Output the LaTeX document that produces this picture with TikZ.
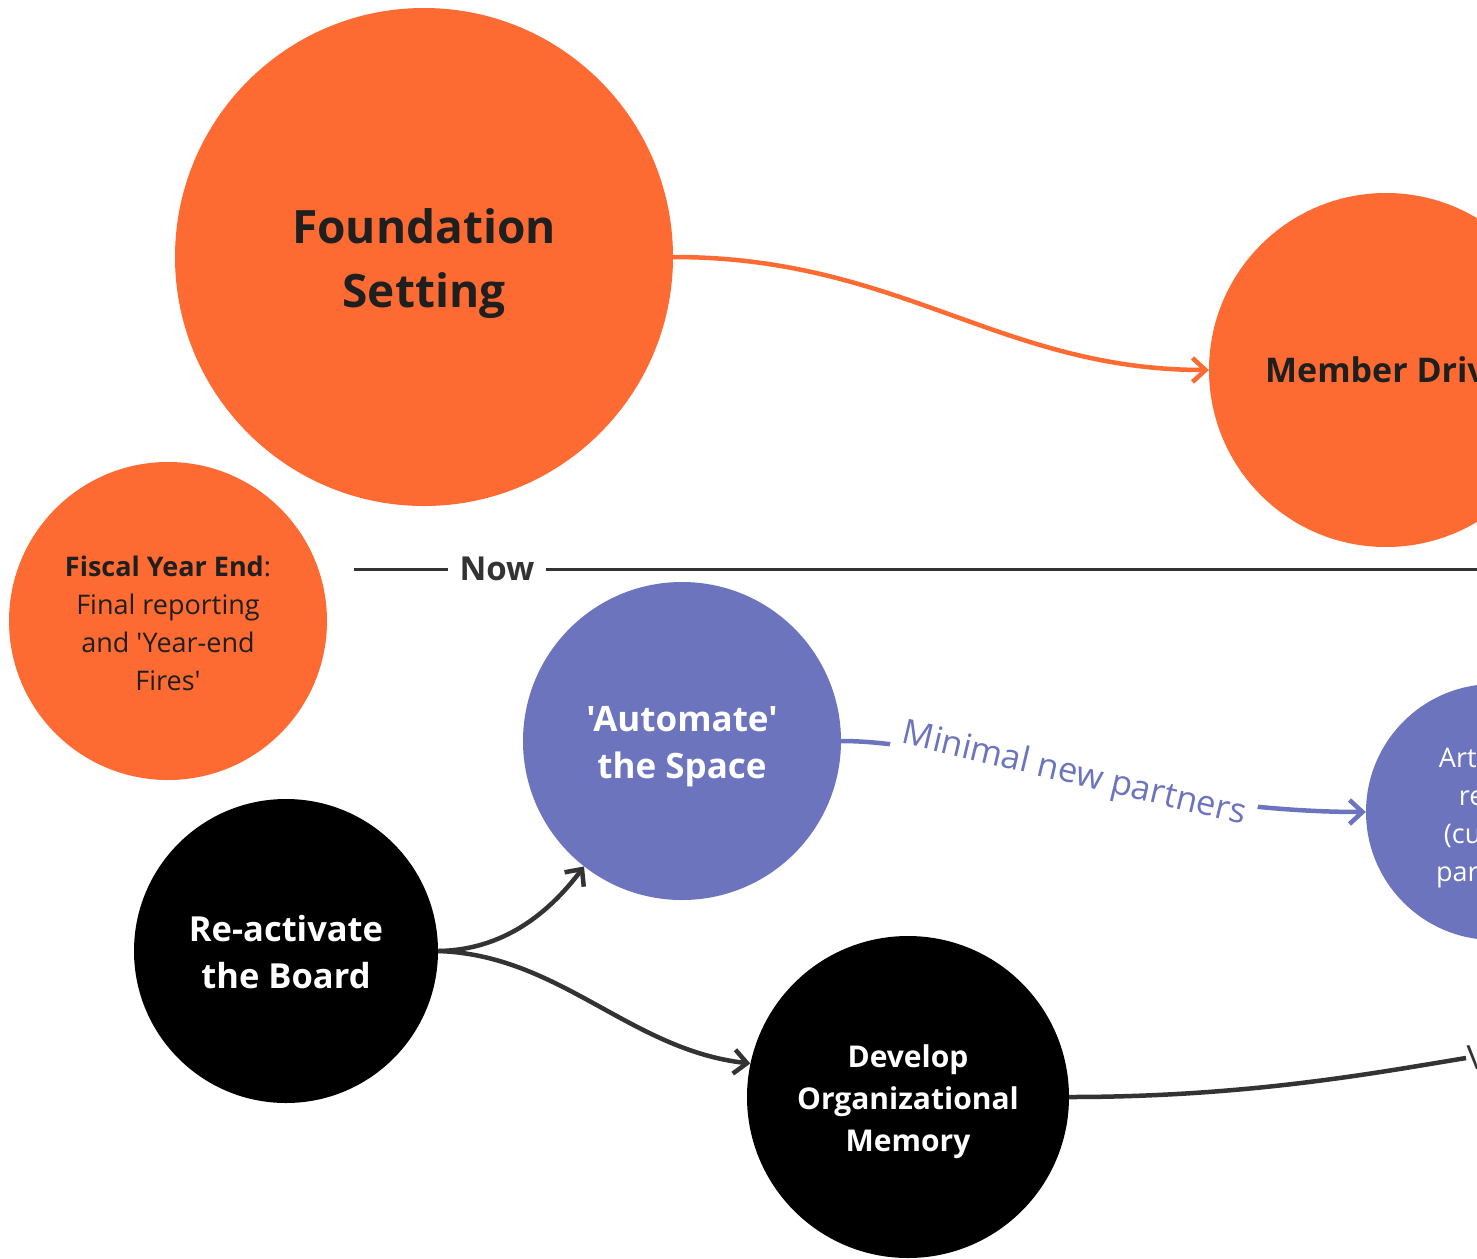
\documentclass[tikz,border=0pt]{standalone}
\usepackage{fontspec}
\setmainfont{Open Sans}[Ligatures=TeXOff]
\usetikzlibrary{arrows.meta}

\definecolor{brandorange}{HTML}{FE6B32}
\definecolor{brandpurple}{HTML}{6B74BD}
\definecolor{ink}{HTML}{1F1F1F}
\definecolor{wire}{HTML}{333333}

\begin{document}
\begin{tikzpicture}[x=1pt,y=-1pt,
  bubble/.style={circle, inner sep=0pt, minimum size=#1},
  orangebubble/.style={bubble=#1, fill=brandorange},
  purplebubble/.style={bubble=#1, fill=brandpurple},
  blackbubble/.style={bubble=#1, fill=black},
  caption/.style={align=center, inner sep=0pt},
  darkcaption/.style={caption, text=ink},
  lightcaption/.style={caption, text=white},
  tip/.style={-{Straight Barb[length=13pt,width=24pt]}},
  flow/.style={line width=4.5pt, tip},
  orangeflow/.style={flow, draw=brandorange},
  purpleflow/.style={flow, draw=brandpurple},
  greyflow/.style={flow, draw=wire},
  edgelabel/.style={fill=white, inner xsep=10pt, inner ysep=2pt,
    font=\fontsize{34.5}{40}\selectfont},
]
\clip (0,0) rectangle (1477,1258);
\fill[white] (0,0) rectangle (1477,1258);

% phases
\node[orangebubble=498pt] (found) at (424,257) {};
\node[darkcaption, font=\fontsize{46}{64}\selectfont\bfseries]
  (foundtext) at ([yshift=-7pt]found) {Foundation\\Setting};
\node[orangebubble=354pt] (member) at (1386,370) {};
\node[darkcaption, font=\fontsize{34}{40}\selectfont\bfseries]
  (membertext) at (member) {Member Drive};
\node[orangebubble=318pt] (fiscal) at (168,621) {};
\node[darkcaption, font=\fontsize{27}{38}\selectfont]
  (fiscaltext) at ([yshift=-2pt]fiscal) {\textbf{Fiscal Year End}:\\Final reporting\\and 'Year-end\\Fires'};

% timeline marker
\node[font=\fontsize{33}{40}\selectfont\bfseries, text=wire, inner xsep=11pt]
  (now) at (497,569) {Now};
\coordinate (nowL) at (354,569);
\coordinate (nowR) at (1490,569);
\draw[wire, line width=3pt] (nowL) -- (now.west);
\draw[wire, line width=3pt] (now.east) -- (nowR);

% tracks
\node[purplebubble=318pt] (auto) at (682,741) {};
\node[lightcaption, font=\fontsize{35}{47}\selectfont\bfseries]
  (autotext) at ([yshift=-6pt]auto) {'Automate'\\the Space};
\node[purplebubble=256pt] (artist) at (1494,812) {};
\node[lightcaption, font=\fontsize{27}{38}\selectfont]
  (artisttext) at ([yshift=-6pt]artist) {Artists in\\reach\\(current\\partners)};
\node[blackbubble=304pt] (board) at (286,951) {};
\node[lightcaption, font=\fontsize{34.5}{47}\selectfont\bfseries]
  (boardtext) at ([yshift=-1pt]board) {Re-activate\\the Board};
\node[blackbubble=322pt] (memory) at (908,1097) {};
\node[lightcaption, font=\fontsize{30}{42}\selectfont\bfseries]
  (memorytext) at ([yshift=-5pt]memory) {Develop\\Organizational\\Memory};

% connectors
\draw[orangeflow] (found.east) .. controls (900,257) and (1000,370) .. (member.west);

\draw[purpleflow] (auto.east) .. controls (960,741) and (1150,812) .. (artist.west);
\node[edgelabel, text=brandpurple, rotate=-13.4] (partners) at (1074,775) {Minimal new partners};

\draw[greyflow] (board.east) .. controls (510,950) and (555,905) .. (auto.232.6);
\draw[greyflow] (board.east) .. controls (560,955) and (630,1050) .. (memory.168);

\node[edgelabel, text=wire, anchor=west, inner xsep=2pt, rotate=7] (memlabel) at (1466,1058) {Wiki};
\draw[wire, line width=4.5pt] (memory.east) .. controls (1250,1097) and (1380,1072) .. (memlabel.west);
\end{tikzpicture}
\end{document}
